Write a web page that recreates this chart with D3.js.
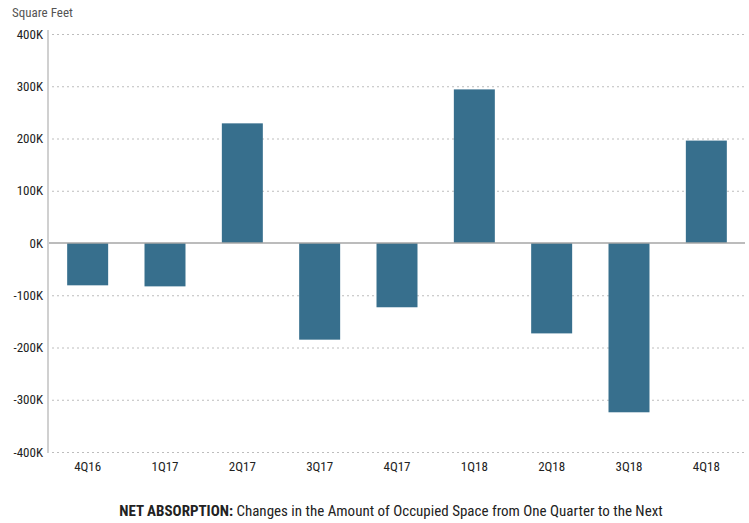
<!DOCTYPE html>
<html><head><meta charset="utf-8">
<script src="https://cdn.jsdelivr.net/npm/d3@7"></script>
<style>
body{margin:0;background:#fff;}
svg text{font-family:"Liberation Sans Narrow","Arial Narrow","Roboto Condensed","Liberation Sans",sans-serif;}
</style></head>
<body><svg id="c" width="749" height="523"></svg>
<script>
const categories = ["4Q16","1Q17","2Q17","3Q17","4Q17","1Q18","2Q18","3Q18","4Q18"];
const values = [-81000,-83000,229000,-185000,-123000,294000,-173000,-324000,196000];
const yTicks = [-400000,-300000,-200000,-100000,0,100000,200000,300000,400000];

(function(){
const svg = d3.select("#c");
const pL = 49, pR = 745, pT = 34, pB = 452;
const x = d3.scaleBand().domain(categories).range([pL, pR]).paddingInner(0.47).paddingOuter(0.235);
const y = d3.scaleLinear().domain([-400000, 400000]).range([pB, pT]);

svg.append("g").selectAll("line").data(yTicks.filter(d=>d!==0)).join("line")
  .attr("x1", pL+3).attr("x2", pR).attr("y1", d=>y(d)+0.5).attr("y2", d=>y(d)+0.5)
  .attr("stroke", "#bdbdbd").attr("stroke-width", 1).attr("stroke-dasharray", "2,3");

const yAxis = d3.axisLeft(y).tickValues(yTicks).tickSize(0).tickPadding(5)
  .tickFormat(d => (d/1000) + "K");
const ga = svg.append("g").attr("transform", `translate(${pL-1},0)`).call(yAxis);
ga.select(".domain").remove();
ga.selectAll("text").attr("font-size", 13).attr("fill", "#222");

svg.append("g").selectAll("rect").data(values).join("rect")
  .attr("x", (d,i)=>x(categories[i]))
  .attr("width", x.bandwidth())
  .attr("y", d=>y(Math.max(0,d)))
  .attr("height", d=>Math.abs(y(d)-y(0)))
  .attr("fill", "#376f8d");

svg.append("line").attr("x1", pL).attr("x2", pR).attr("y1", y(0)).attr("y2", y(0))
  .attr("stroke", "#a6a6a6").attr("stroke-width", 1.5);

svg.append("line").attr("x1", pL-1).attr("x2", pL-1).attr("y1", 30).attr("y2", pB+1)
  .attr("stroke", "#d0d0d0").attr("stroke-width", 2);

const xAxis = d3.axisBottom(x).tickSize(0).tickPadding(10);
const gx = svg.append("g").attr("transform", `translate(0,${pB})`).call(xAxis);
gx.select(".domain").remove();
gx.selectAll("text").attr("font-size", 13).attr("fill", "#222");

svg.append("text").attr("x", 12).attr("y", 17).attr("font-size", 13).attr("fill", "#555").text("Square Feet");

const cap = svg.append("text").attr("x", 391).attr("y", 516).attr("text-anchor", "middle")
  .attr("font-size", 15).attr("fill", "#222");
cap.append("tspan").attr("font-weight", "bold").text("NET ABSORPTION:");
cap.append("tspan").text(" Changes in the Amount of Occupied Space from One Quarter to the Next");
})();
</script></body></html>
